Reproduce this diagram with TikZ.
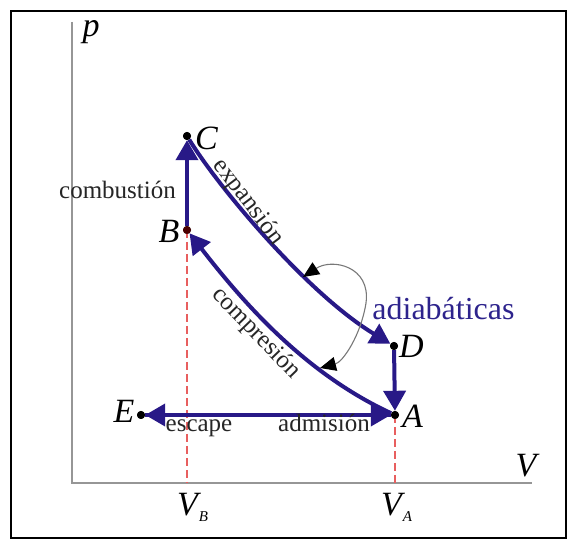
\documentclass[tikz,border=0pt]{standalone}
\usepackage{fontspec}
\setmainfont{Liberation Serif}
\usetikzlibrary{arrows.meta}
\definecolor{cyc}{RGB}{40,25,135}
\definecolor{adb}{RGB}{45,35,140}
\definecolor{axg}{RGB}{150,150,150}
\definecolor{dashred}{RGB}{232,95,95}
\definecolor{ptr}{RGB}{120,120,120}
\begin{document}
\begin{tikzpicture}[x=1pt,y=-1pt,
  cycleline/.style={draw=cyc, line width=4pt, -{Triangle[length=20pt,width=22pt]}},
  dotn/.style={circle, fill=black, inner sep=0pt, minimum size=8pt},
  letter/.style={font=\fontsize{34}{34}\selectfont\itshape, inner sep=0pt, anchor=base},
  lbl/.style={font=\fontsize{25}{25}\selectfont, inner sep=0pt, text=black!85},
  axisline/.style={draw=axg, line width=2.3pt},
  guide/.style={draw=dashred, line width=1.3pt, dash pattern=on 8pt off 4pt},
  pointer/.style={draw=ptr, line width=1.1pt, -{Triangle[length=16pt,width=14pt,color=black]}}
]
\useasboundingbox (0,0) rectangle (574,548);
\draw[line width=2pt] (11,11) rectangle (566,538);
% axes
\coordinate (ptop) at (72,22);
\coordinate (orig) at (72,483);
\coordinate (vend) at (532,483);
\draw[axisline] (ptop) -- (orig) -- (vend);
\node[letter] (plabel) at (91,37) {p};
\node[letter] (vlabel) at (526,477) {V};
% state points
\node[dotn] (C) at (187,136) {};
\node[dotn] (B) at (187,230) {};
\node[dotn] (D) at (394,346) {};
\node[dotn] (A) at (395,415) {};
\node[dotn] (E) at (141,415) {};
\coordinate (VBfoot) at (187,483);
\coordinate (VAfoot) at (395,483);
% guides
\draw[guide] (B.center) -- (VBfoot);
\draw[guide] (A.center) -- (VAfoot);
% cycle
\draw[cycleline] (B) -- (C);
\draw[cycleline] (C) .. controls (219,188) and (308,294) .. (D);
\draw[cycleline] (D) -- (A);
\draw[cycleline] (A) .. controls (304,373) and (242,301) .. (B);
\draw[cycleline] (A) -- (E);
\draw[cycleline] (E) -- (A);
% redraw dots on top
\fill (C) circle (4pt);
\fill (D) circle (4pt);
\fill (A) circle (4pt);
\fill (E) circle (4pt);
\fill[black!70!red] (B) circle (4pt);
% point letters
\node[letter] (Cl) at (206.5,150) {C};
\node[letter] (Bl) at (169,243) {B};
\node[letter] (Dl) at (411.5,358) {D};
\node[letter] (Al) at (412.5,428) {A};
\node[letter] (El) at (124,423) {E};
\node[letter, anchor=base west] (VBl) at (177,515) {V\kern1pt\raisebox{-6pt}{\fontsize{15}{15}\selectfont B}};
\node[letter, anchor=base west] (VAl) at (381,515) {V\kern1pt\raisebox{-6pt}{\fontsize{15}{15}\selectfont A}};
% process labels
\node[lbl, anchor=base] (comb) at (117.5,199) {combustión};
\node[lbl, anchor=base] (esc) at (199,432) {escape};
\node[lbl, anchor=base] (adm) at (324,432) {admisión};
\node[lbl, rotate=-53] (exp) at (248,202) {expansión};
\node[lbl, rotate=-46] (comp) at (256,333) {compresión};
\node[font=\fontsize{32}{32}\selectfont, inner sep=0pt, anchor=base, text=adb] (adia) at (443.5,320) {adiabáticas};
% pointers
\coordinate (adjoin) at (366,303);
\draw[pointer] (adjoin) .. controls (371,266) and (332,258) .. (303,277);
\draw[pointer] (adjoin) .. controls (361,335) and (343,362) .. (320,368);
\end{tikzpicture}
\end{document}
